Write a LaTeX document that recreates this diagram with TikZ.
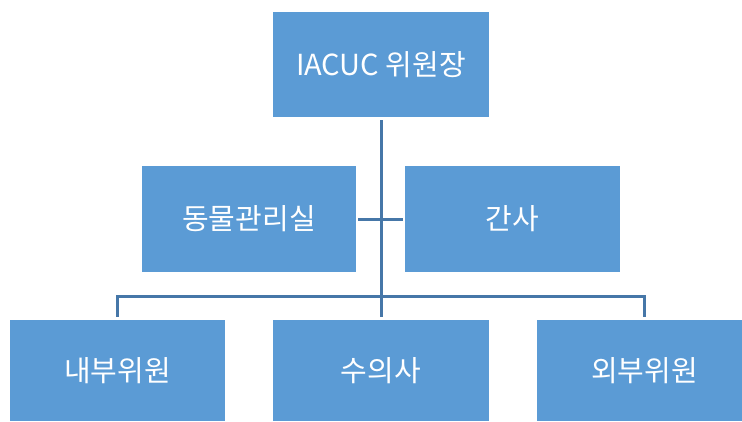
\documentclass[tikz,border=0pt]{standalone}
\usepackage{fontspec}
\setmainfont{Noto Sans CJK KR}
\definecolor{boxblue}{HTML}{5B9BD5}
\definecolor{linkblue}{HTML}{4677A8}
\begin{document}
\begin{tikzpicture}[x=1pt,y=1pt,
  orgbox/.style={rectangle, fill=boxblue, draw=none, text=white, inner sep=0pt,
    font=\fontsize{29}{33}\selectfont},
  conn/.style={draw=linkblue, line width=3pt}]
\useasboundingbox (0,0) rectangle (742,-421);
\node[orgbox, minimum width=216, minimum height=105] (top) at (381,-64.5) {IACUC 위원장};
\node[orgbox, minimum width=214, minimum height=106] (lm) at (249,-219) {동물관리실};
\node[orgbox, minimum width=215, minimum height=106] (rm) at (512.5,-219) {간사};
\node[orgbox, minimum width=215, minimum height=101] (bl) at (117.5,-370.5) {내부위원};
\node[orgbox, minimum width=216, minimum height=101] (bm) at (381,-370.5) {수의사};
\node[orgbox, minimum width=215, minimum height=101] (br) at (644.5,-370.5) {외부위원};
\coordinate (hub) at (381,-296);
\draw[conn] ([yshift=-3]top.south) -- ([yshift=3]bm.north);
\draw[conn] ([xshift=2]lm.east) -- ([xshift=-2]rm.west);
\draw[conn] ([yshift=3]bl.north) |- (hub) -| ([yshift=3]br.north);
\end{tikzpicture}
\end{document}
